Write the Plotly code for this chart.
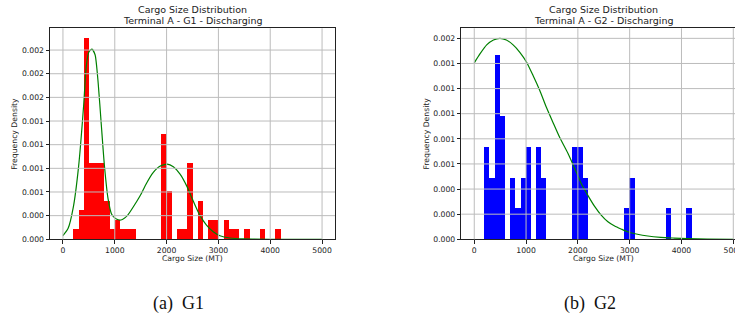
import plotly.graph_objects as go

W, H = 735, 318

# ---------------- data ----------------
bin_left = [200, 300, 400, 500, 600, 700, 800, 900, 1000, 1100,
            1200, 1300, 1400, 1500, 1600, 1700, 1800, 1900, 2000, 2100,
            2200, 2300, 2400, 2500, 2600, 2700, 2800, 2900, 3000, 3100,
            3200, 3300, 3400, 3500, 3600, 3700, 3800, 3900, 4000, 4100]
bin_width = 100

g1_density = [0.000101, 0.000303, 0.00212, 0.000808, 0.000808, 0.000808, 0.000404, 0.000101, 0.000202, 0.000101,
              0.000101, 0.000101, 0, 0, 0, 0, 0, 0.00111, 0.000505, 0,
              0.000101, 0.000101, 0.000808, 0, 0.000404, 0, 0.000202, 0.000202, 0, 0.000202,
              0.000101, 0.000101, 0, 0.000101, 0, 0, 0.000101, 0, 0, 0.000101]

g2_density = [0.000732, 0.000488, 0.001463, 0.000976, 0, 0.000488, 0.000244, 0.000488, 0.000732, 0,
              0.000732, 0.000488, 0, 0, 0, 0, 0, 0.000732, 0.000732, 0.000488,
              0, 0, 0, 0, 0, 0, 0, 0.000244, 0.000488, 0,
              0, 0, 0, 0, 0, 0.000244, 0, 0, 0, 0.000244]

g1_curve_x = [0, 100, 200, 300, 400, 450, 500, 560, 620, 680, 740, 800, 870, 940, 1030,
              1120, 1250, 1420, 1500, 1600, 1740, 1870, 2010, 2130, 2260, 2390, 2520,
              2640, 2770, 2900, 3030, 3220, 3500, 4000, 5000]
g1_curve_y = [0.000038, 0.000116, 0.00034, 0.00076, 0.00142, 0.00183, 0.00198, 0.00201, 0.00195,
              0.00165, 0.00121, 0.00078, 0.00043, 0.000265, 0.000214, 0.000204, 0.000256,
              0.000397, 0.00047, 0.00058, 0.000705, 0.000773, 0.000794, 0.000766, 0.000689,
              0.000562, 0.000397, 0.000256, 0.000151, 0.00008, 0.000038, 0.000014, 0.000004,
              0.0000005, 0.0]

g2_curve_x = [0, 110, 240, 370, 495, 620, 750, 880, 1010, 1135, 1265, 1390, 1520, 1650,
              1810, 1940, 2065, 2190, 2320, 2450, 2580, 2710, 2835, 2960, 3150, 3350,
              3600, 3860, 4120, 4500, 5000]
g2_curve_y = [0.001405, 0.001476, 0.001548, 0.001587, 0.0016, 0.001587, 0.001548, 0.001489,
              0.00141, 0.001304, 0.001185, 0.001053, 0.00093, 0.00081, 0.000683, 0.000563,
              0.000444, 0.000352, 0.000264, 0.000193, 0.00014, 0.000106, 0.000082, 0.00006,
              0.00004, 0.000026, 0.000016, 0.00001, 0.000005, 0.000002, 0.0000005]

x_ticks = [0, 1000, 2000, 3000, 4000, 5000]
x_tick_text = ["0", "1000", "2000", "3000", "4000", "5000"]

g1_y_ticks = [0, 0.00025, 0.0005, 0.00075, 0.001, 0.00125, 0.0015, 0.00175, 0.002]
g1_y_text = ["0.000", "0.000", "0.001", "0.001", "0.001", "0.001", "0.002", "0.002", "0.002"]

g2_y_ticks = [0, 0.0002, 0.0004, 0.0006, 0.0008, 0.001, 0.0012, 0.0014, 0.0016]
g2_y_text = ["0.000", "0.000", "0.000", "0.001", "0.001", "0.001", "0.001", "0.001", "0.002"]

titles = ["Terminal A - G1 - Discharging", "Terminal A - G2 - Discharging"]
subcaptions = ["(a)\u00a0\u00a0G1", "(b)\u00a0\u00a0G2"]

# ---------------- styling ----------------
FONT = "DejaVu Sans"
TXT = "#222222"
GRID = "#bcbcbc"

def px_x(p):
    return p / W

def px_y(p):
    return 1 - p / H

ydom = [px_y(239.3), px_y(28.3)]
x1dom = [px_x(50), px_x(335)]
x2dom = [px_x(461.3), 1.0]

fig = go.Figure()

fig.add_trace(go.Bar(x=bin_left, y=g1_density, width=bin_width, offset=0,
                     marker=dict(color="#ff0000", line=dict(width=0)),
                     xaxis="x", yaxis="y", showlegend=False))
fig.add_trace(go.Scatter(x=g1_curve_x, y=g1_curve_y, mode="lines",
                         line=dict(color="#008000", width=1.2, shape="spline", smoothing=0.6),
                         xaxis="x", yaxis="y", showlegend=False))
fig.add_trace(go.Bar(x=bin_left, y=g2_density, width=bin_width, offset=0,
                     marker=dict(color="#0000ff", line=dict(width=0)),
                     xaxis="x2", yaxis="y2", showlegend=False))
fig.add_trace(go.Scatter(x=g2_curve_x, y=g2_curve_y, mode="lines",
                         line=dict(color="#008000", width=1.2, shape="spline", smoothing=0.6),
                         xaxis="x2", yaxis="y2", showlegend=False))

tickfont = dict(family=FONT, size=7.7, color=TXT)
common_x = dict(tickvals=x_ticks, ticktext=x_tick_text, showgrid=False, zeroline=False,
                showline=True, linecolor="#222", linewidth=1, mirror=True,
                ticks="outside", ticklen=3.5, tickwidth=0.8, tickcolor="#222",
                tickfont=tickfont, layer="above traces", automargin=False,
                ticklabeloverflow="allow")
common_y = dict(showgrid=False, zeroline=False, showline=True, linecolor="#222", linewidth=1,
                ticks="outside", ticklen=3.5, tickwidth=0.8, tickcolor="#222",
                tickfont=tickfont, layer="above traces", automargin=False)

fig.update_layout(
    width=W, height=H,
    margin=dict(l=0, r=0, t=0, b=0, autoexpand=False),
    paper_bgcolor="white", plot_bgcolor="white",
    bargap=0, barmode="overlay",
    xaxis=dict(domain=x1dom, range=[-250, 5250], anchor="y", **common_x),
    yaxis=dict(domain=ydom, range=[0, 0.00223], anchor="x", tickvals=g1_y_ticks,
               ticktext=g1_y_text, mirror=True, **common_y),
    xaxis2=dict(domain=x2dom, range=[-250, 5033], anchor="y2", **common_x),
    yaxis2=dict(domain=ydom, range=[0, 0.00168], anchor="x2", tickvals=g2_y_ticks,
                ticktext=g2_y_text, mirror=False, **common_y),
)

# grid lines drawn above the bars (as matplotlib does by default)
shapes = []
for xa, ya, yt in (("x", "y", g1_y_ticks), ("x2", "y2", g2_y_ticks)):
    for t in x_ticks:
        shapes.append(dict(type="line", xref=xa, yref=ya + " domain", x0=t, x1=t, y0=0, y1=1,
                           line=dict(color=GRID, width=1), layer="above"))
    for t in yt[1:]:
        shapes.append(dict(type="line", xref=xa + " domain", yref=ya, x0=0, x1=1, y0=t, y1=t,
                           line=dict(color=GRID, width=1), layer="above"))
fig.update_layout(shapes=shapes)

ann = []
centers = [192.5, 603.5]
ylab_x = [15, 426.7]
sub_x = [178, 590]
for i in range(2):
    ann.append(dict(text="Cargo Size Distribution", x=px_x(centers[i]), y=px_y(9.6),
                    xref="paper", yref="paper", showarrow=False, xanchor="center", yanchor="middle",
                    font=dict(family=FONT, size=9.5, color=TXT)))
    ann.append(dict(text=titles[i], x=px_x(centers[i]), y=px_y(20.3),
                    xref="paper", yref="paper", showarrow=False, xanchor="center", yanchor="middle",
                    font=dict(family=FONT, size=9.5, color=TXT)))
    ann.append(dict(text="Cargo Size (MT)", x=px_x(centers[i]), y=px_y(258.5),
                    xref="paper", yref="paper", showarrow=False, xanchor="center", yanchor="middle",
                    font=dict(family=FONT, size=7.7, color=TXT)))
    ann.append(dict(text="Frequency Density", x=px_x(ylab_x[i]), y=px_y(133.8), textangle=-90,
                    xref="paper", yref="paper", showarrow=False, xanchor="center", yanchor="middle",
                    font=dict(family=FONT, size=7.7, color=TXT)))
    ann.append(dict(text=subcaptions[i], x=px_x(sub_x[i]), y=px_y(303.5),
                    xref="paper", yref="paper", showarrow=False, xanchor="center", yanchor="middle",
                    font=dict(family="Liberation Serif", size=18, color="#111")))
fig.update_layout(annotations=ann)

fig.write_html("out.html", config={"displayModeBar": False},
               post_script="document.body.style.margin='0';document.body.style.overflow='hidden';")
